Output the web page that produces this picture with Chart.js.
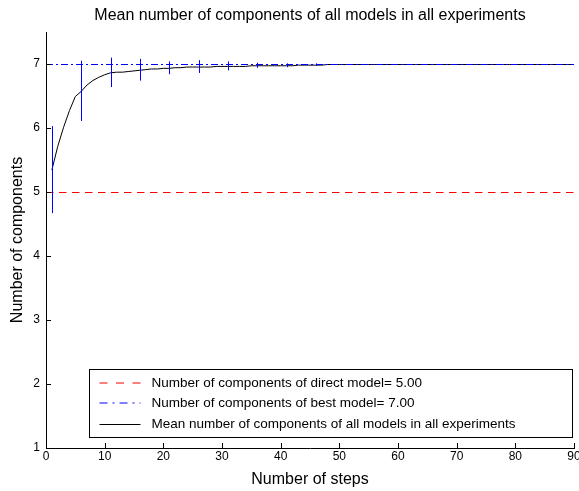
<!DOCTYPE html>
<html><head><meta charset="utf-8">
<script src="https://cdn.jsdelivr.net/npm/chart.js@4.4.0/dist/chart.umd.min.js"></script>
<style>html,body{margin:0;padding:0;background:#fff;} #wrap{width:579px;height:491px;}</style>
</head><body><div id="wrap"><canvas id="c" width="579" height="491"></canvas></div>
<script>
const titleText = 'Mean number of components of all models in all experiments';
const xAxisTitle = 'Number of steps';
const yAxisTitle = 'Number of components';
const steps = [1,2,3,4,5,6,7,8,9,10,11,12,13,14,15,16,17,18,19,20,21,22,23,24,25,26,27,28,29,30,
  31,32,33,34,35,36,37,38,39,40,41,42,43,44,45,46,47,48,49,50,51,52,53,54,55,56,57,58,59,60,
  61,62,63,64,65,66,67,68,69,70,71,72,73,74,75,76,77,78,79,80,81,82,83,84,85,86,87,88,89,90];
const meanComponents = [5.35,5.72,6.02,6.28,6.50,6.58,6.68,6.75,6.80,6.84,
  6.87,6.88,6.88,6.89,6.90,6.91,6.92,6.93,6.93,6.94,
  6.94,6.95,6.95,6.96,6.96,6.96,6.96,6.96,6.97,6.97,
  6.97,6.97,6.97,6.97,6.98,6.98,6.98,6.98,6.98,6.98,
  6.98,6.98,6.99,6.99,6.99,6.99,6.99,7.00,7.00,7.00,
  7.00,7.00,7.00,7.00,7.00,7.00,7.00,7.00,7.00,7.00,
  7.00,7.00,7.00,7.00,7.00,7.00,7.00,7.00,7.00,7.00,
  7.00,7.00,7.00,7.00,7.00,7.00,7.00,7.00,7.00,7.00,
  7.00,7.00,7.00,7.00,7.00,7.00,7.00,7.00,7.00,7.00];
const errorSteps = [1,6,11,16,21,26,31,36,41,46];
const errorHalfWidths = [0.68,0.47,0.23,0.17,0.10,0.10,0.07,0.04,0.03,0.02];
const directModelValue = 5.00;
const bestModelValue = 7.00;
const seriesLabels = [
  'Number of components of direct model= 5.00',
  'Number of components of best model= 7.00',
  'Mean number of components of all models in all experiments'
];
const xTicks = [0,10,20,30,40,50,60,70,80,90];
const yTicks = [1,2,3,4,5,6,7];
const xRange = [0,90];
const yRange = [1,7.5];

const FONT = "'Liberation Sans', Arial, Helvetica, sans-serif";
const RED = '#ff0000', BLUE = '#0000ff', BLACK = '#000000';
const dashRed = [7.5,5.5], dashBlue = [7,3,2,3];
const legendDashRed = [8,8.5], legendDashBlue = [8,5,2,5];

const crispPlugin = {
  id: 'crisp',
  beforeDatasetsDraw(chart) { chart.ctx.save(); chart.ctx.translate(0, 0.5); },
  afterDatasetsDraw(chart) { chart.ctx.restore(); }
};

const errorBarPlugin = {
  id: 'errbars',
  afterDatasetsDraw(chart) {
    const {ctx, scales:{x, y}} = chart;
    ctx.save();
    ctx.strokeStyle = BLUE; ctx.lineWidth = 1;
    errorSteps.forEach((s, i) => {
      const m = meanComponents[steps.indexOf(s)];
      const h = errorHalfWidths[i];
      const px = Math.round(x.getPixelForValue(s)) + 0.5;
      ctx.beginPath();
      ctx.moveTo(px, y.getPixelForValue(m + h));
      ctx.lineTo(px, y.getPixelForValue(m - h));
      ctx.stroke();
    });
    ctx.restore();
  }
};

const innerTicksPlugin = {
  id: 'innerTicks',
  afterDraw(chart) {
    const {ctx, chartArea:a, scales:{x, y}} = chart;
    ctx.save();
    ctx.strokeStyle = BLACK; ctx.lineWidth = 1;
    ctx.beginPath();
    xTicks.forEach(v => {
      if (v === xRange[0]) return;
      const px = Math.round(x.getPixelForValue(v)) + 0.5;
      ctx.moveTo(px, a.bottom); ctx.lineTo(px, a.bottom - 5);
    });
    yTicks.forEach(v => {
      if (v === yRange[0]) return;
      const py = Math.round(y.getPixelForValue(v)) + 0.5;
      ctx.moveTo(a.left, py); ctx.lineTo(a.left + 5, py);
    });
    ctx.stroke();
    ctx.restore();
  }
};

const boxLegendPlugin = {
  id: 'boxLegend',
  afterDraw(chart) {
    const {ctx, chartArea:a} = chart;
    const left = a.left + 43.5, right = a.right - 1.5, bottom = a.bottom - 10.5, top = bottom - 68;
    ctx.save();
    ctx.fillStyle = '#fff';
    ctx.fillRect(left, top, right - left, bottom - top);
    ctx.strokeStyle = BLACK; ctx.lineWidth = 1;
    ctx.strokeRect(left, top, right - left, bottom - top);
    const rows = [
      {color: RED, dash: legendDashRed, off: 0},
      {color: BLUE, dash: legendDashBlue, off: 0},
      {color: BLACK, dash: [], off: 0.5}
    ];
    ctx.font = '13.5px ' + FONT;
    ctx.textBaseline = 'middle';
    rows.forEach((r, i) => {
      const base = Math.round(top + 13 + i * 20.5);
      const yy = base + r.off;
      ctx.strokeStyle = r.color; ctx.setLineDash(r.dash);
      ctx.beginPath(); ctx.moveTo(left + 10, yy); ctx.lineTo(left + 51, yy); ctx.stroke();
      ctx.setLineDash([]);
      ctx.fillStyle = BLACK;
      ctx.fillText(seriesLabels[i], left + 62, base + 0.5);
    });
    ctx.restore();
  }
};

new Chart(document.getElementById('c'), {
  type: 'line',
  data: {
    datasets: [
      {label: seriesLabels[0], data: xRange.map(v => ({x: v, y: directModelValue})), borderColor: RED, borderDash: dashRed, borderWidth: 1, pointRadius: 0, order: 1},
      {label: seriesLabels[1], data: xRange.map(v => ({x: v, y: bestModelValue})), borderColor: BLUE, borderDash: dashBlue, borderWidth: 1, pointRadius: 0, order: 0},
      {label: seriesLabels[2], data: steps.map((s, i) => ({x: s, y: meanComponents[i]})), borderColor: BLACK, borderWidth: 1, pointRadius: 0, order: 2, tension: 0}
    ]
  },
  options: {
    responsive: false, animation: false, devicePixelRatio: 1,
    layout: {padding: {left: 0, right: 5, top: 0, bottom: 0}},
    plugins: {
      legend: {display: false}, tooltip: {enabled: false},
      title: {display: true, text: titleText, fullSize: false, color: BLACK,
        font: {family: FONT, size: 16, weight: 'normal'}, padding: {top: 6, bottom: 6.8}}
    },
    scales: {
      x: {type: 'linear', min: xRange[0], max: xRange[1],
        afterBuildTicks: s => { s.ticks = xTicks.map(v => ({value: v})); },
        afterFit: s => { s.height = 43; s.paddingLeft = 0; s.paddingRight = 0; },
        grid: {display: false, drawTicks: false},
        border: {display: true, color: BLACK, width: 1},
        ticks: {color: BLACK, font: {family: FONT, size: 12}, padding: 1, maxRotation: 0, autoSkip: false},
        title: {display: true, text: xAxisTitle, color: BLACK, font: {family: FONT, size: 16}, padding: {top: 0, bottom: 2}}
      },
      y: {type: 'linear', min: yRange[0], max: yRange[1],
        afterBuildTicks: s => { s.ticks = yTicks.map(v => ({value: v})); },
        afterFit: s => { s.width = 46; },
        grid: {display: false, drawTicks: false},
        border: {display: true, color: BLACK, width: 1},
        ticks: {color: BLACK, font: {family: FONT, size: 12}, padding: 6, autoSkip: false},
        title: {display: true, text: yAxisTitle, color: BLACK, font: {family: FONT, size: 16}, padding: {top: 8, bottom: 0}}
      }
    }
  },
  plugins: [crispPlugin, errorBarPlugin, innerTicksPlugin, boxLegendPlugin]
});
</script></body></html>
